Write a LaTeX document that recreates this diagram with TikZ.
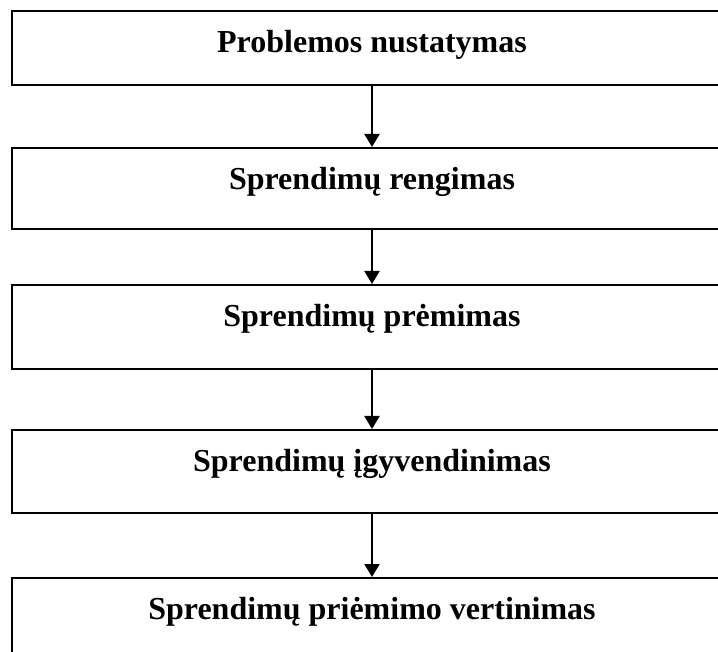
\documentclass[tikz,border=0pt]{standalone}
\usepackage{fontspec}
\setmainfont{Liberation Serif}
\usetikzlibrary{arrows.meta}
\begin{document}
\begin{tikzpicture}[x=1pt,y=-1pt,
  box/.style={draw=black, line width=2pt, rectangle, anchor=north,
    minimum width=720pt, inner ysep=0pt, inner xsep=0pt,
    font=\fontsize{32}{38}\selectfont\bfseries,
    text height=41.5pt, text depth=#1},
  flow/.style={line width=2pt, -{Triangle[width=15pt,length=13pt]}}]
\useasboundingbox (0,0) rectangle (718,652);
\clip (0,0) rectangle (718,652);
\node[box={32pt}] (b1) at (372,10.5) {Problemos nustatymas};
\node[box={39.5pt}] (b2) at (372,147) {Sprendimų rengimas};
\node[box={42.5pt}] (b3) at (372,284) {Sprendimų prėmimas};
\node[box={41.5pt}] (b4) at (372,429) {Sprendimų įgyvendinimas};
\node[box={52pt}] (b5) at (372,577) {Sprendimų priėmimo vertinimas};
\draw[flow] (b1.south) -- (b2.north);
\draw[flow] (b2.south) -- (b3.north);
\draw[flow] (b3.south) -- (b4.north);
\draw[flow] (b4.south) -- (b5.north);
\end{tikzpicture}
\end{document}
